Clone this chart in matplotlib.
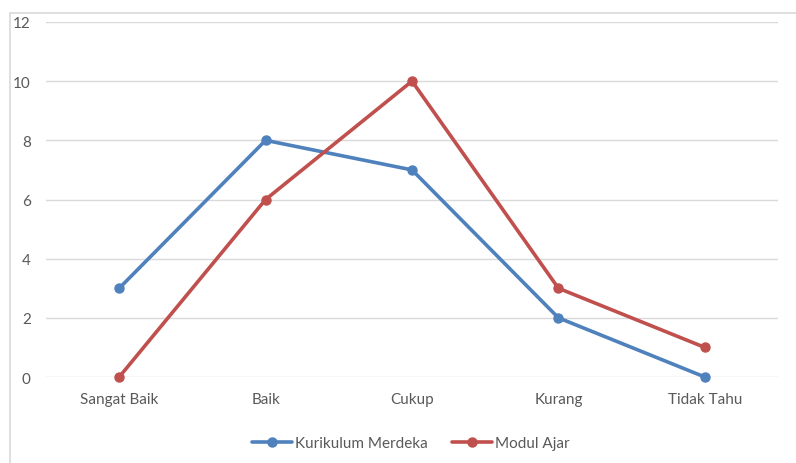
import matplotlib.pyplot as plt
from matplotlib.patches import Rectangle

categories = ['Sangat Baik', 'Baik', 'Cukup', 'Kurang', 'Tidak Tahu']
kurikulum_merdeka = [3, 8, 7, 2, 0]
modul_ajar = [0, 6, 10, 3, 1]
y_ticks = [0, 2, 4, 6, 8, 10, 12]

plt.rcParams['font.family'] = ['Lato', 'DejaVu Sans']

fig = plt.figure(figsize=(7.96, 4.64), dpi=100)
# chart area border (cut off at right and bottom)
fig.patches.append(Rectangle((10 / 796, -0.1), 1.0, 1 - 14 / 464 + 0.1,
                             transform=fig.transFigure, fill=False,
                             edgecolor='#d9d9d9', linewidth=1.2))

ax = fig.add_axes([46 / 796, 1 - 378 / 464, 732 / 796, 355 / 464])
x = range(len(categories))
ax.plot(x, kurikulum_merdeka, color='#4f81bd', lw=2.6, marker='o', ms=6.5,
        label='Kurikulum Merdeka', solid_capstyle='round', clip_on=False, zorder=3)
ax.plot(x, modul_ajar, color='#c0504d', lw=2.6, marker='o', ms=6.5,
        label='Modul Ajar', solid_capstyle='round', clip_on=False, zorder=3)

ax.set_xlim(-0.5, 4.5)
ax.set_ylim(0, 12)
ax.set_yticks(y_ticks)
ax.set_xticks(list(x))
ax.set_xticklabels(categories)
ax.grid(axis='y', color='#d9d9d9', lw=1)
ax.set_axisbelow(True)
for s in ax.spines.values():
    s.set_visible(False)
ax.tick_params(length=0, labelsize=11, colors='#595959', pad=11)
ax.tick_params(axis='y', pad=11)

ax.legend(loc='center', bbox_to_anchor=(411 / 796, 1 - 444 / 464),
          bbox_transform=fig.transFigure, ncol=2, frameon=False,
          fontsize=11, labelcolor='#595959', handlelength=2.6,
          handletextpad=0.2, columnspacing=1.6)

fig.savefig('out.png', dpi=100)
